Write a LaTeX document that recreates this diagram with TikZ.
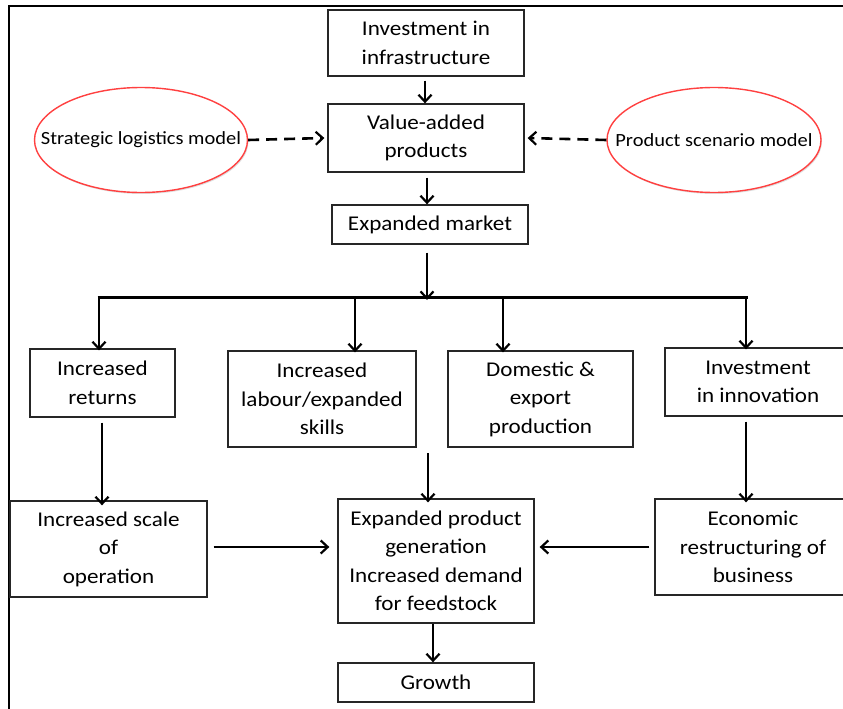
\documentclass[tikz,border=0pt]{standalone}
\usepackage{fontspec}
\setmainfont{Carlito}[FakeStretch=1.1]
\usetikzlibrary{arrows.meta,shapes.geometric,shadows}
\begin{document}
\begin{tikzpicture}[x=1pt,y=-1pt,
  box/.style={draw=black!85,line width=1.3pt,fill=white,align=center,inner sep=0pt,
    font=\fontsize{21}{28.5}\selectfont},
  oval/.style={draw=red!75,line width=1.4pt,fill=white,ellipse,inner sep=0pt,
    drop shadow={shadow xshift=1pt,shadow yshift=-1.5pt,opacity=0.25}},
  ovaltext/.style={inner sep=0pt,font=\fontsize{18.6}{22}\selectfont},
  arr/.style={line width=2.2pt,-{Straight Barb[length=7pt,width=13pt,line width=2.2pt]}},
  darr/.style={arr,dash pattern=on 11pt off 7pt,line width=2.6pt},
  bus/.style={line width=3pt}]
\useasboundingbox (0,0) rectangle (843,709);
% outer frame (left and top edges visible)
\draw[line width=2pt] (9,709) -- (9,6) -- (843,6);
% boxes
\node[box,minimum width=196pt,minimum height=66pt] (inf) at (426,43) {Investment in\\infrastructure};
\node[box,minimum width=196pt,minimum height=68pt] (va) at (426,138) {Value-added\\products};
\node[box,minimum width=196pt,minimum height=39pt] (em) at (430,224.5) {Expanded market};
\node[oval,minimum width=213pt,minimum height=105pt] (slm) at (141,140) {};
\node[ovaltext] (slmt) at (slm.center) {Strategic logistics model};
\node[oval,minimum width=214pt,minimum height=105pt] (psm) at (714,140) {};
\node[ovaltext] (psmt) at (psm.center) {Product scenario model};
\node[box,minimum width=145pt,minimum height=68pt] (ir) at (102.5,383) {Increased\\returns};
\node[box,minimum width=188pt,minimum height=96pt] (ils) at (322,399) {Increased\\labour/expanded\\skills};
\node[box,minimum width=185pt,minimum height=96pt] (dep) at (540.5,399) {Domestic \&\\export\\production};
\node[box,minimum width=186pt,minimum height=68pt] (ii) at (758,382) {Investment\\in innovation};
\node[box,minimum width=197pt,minimum height=96pt] (iso) at (108.5,549) {Increased scale\\of\\operation};
\node[box,minimum width=196pt,minimum height=124pt] (ctr) at (436,561) {Expanded product\\generation\\Increased demand\\for feedstock};
\node[box,minimum width=196pt,minimum height=96pt] (erb) at (753,547) {Economic\\restructuring of\\business};
\node[box,minimum width=196pt,minimum height=39pt] (gr) at (436,682.5) {Growth};
% bus coordinates
\coordinate (bt) at (427,297);
\coordinate (b1) at (99,297);
\coordinate (b2) at (355,297);
\coordinate (b3) at (503,297);
\coordinate (b4) at (746,297);
\coordinate (mid) at (428,453);
% connectors
\draw[arr,shorten <=4pt] (425,0 |- inf.south) -- (425,0 |- va.north);
\draw[arr,shorten <=5pt] (427,0 |- va.south) -- (427,0 |- em.north);
\draw[arr,shorten <=8pt] (427,0 |- em.south) -- ([yshift=-3pt]bt);
\draw[bus] ([xshift=-1.5pt]b1) -- ([xshift=1.5pt]b4);
\draw[arr] (b1) -- ([yshift=-2pt]b1 |- ir.north);
\draw[arr] (b2) -- ([yshift=-2pt]b2 |- ils.north);
\draw[arr] (b3) -- ([yshift=-2pt]b3 |- dep.north);
\draw[arr] (b4) -- ([yshift=-2pt]b4 |- ii.north);
\draw[arr,shorten <=5pt] (102,0 |- ir.south) -- ([yshift=-5pt]102,0 |- iso.north);
\draw[arr] (mid) -- ([yshift=-4pt]mid |- ctr.north);
\draw[arr,shorten <=5pt] (746,0 |- ii.south) -- ([yshift=-4pt]746,0 |- erb.north);
\draw[arr,shorten <=6pt,shorten >=8pt] (iso.east |- 0,547) -- (ctr.west |- 0,547);
\draw[arr,shorten <=5pt,shorten >=5pt] (erb.west |- 0,547) -- (ctr.east |- 0,547);
\draw[arr] (433,0 |- ctr.south) -- (433,0 |- gr.north);
\draw[darr] (slm.east) -- ([xshift=-3pt]va.west);
\draw[darr] (psm.west) -- ([xshift=3pt]va.east);
\end{tikzpicture}
\end{document}
